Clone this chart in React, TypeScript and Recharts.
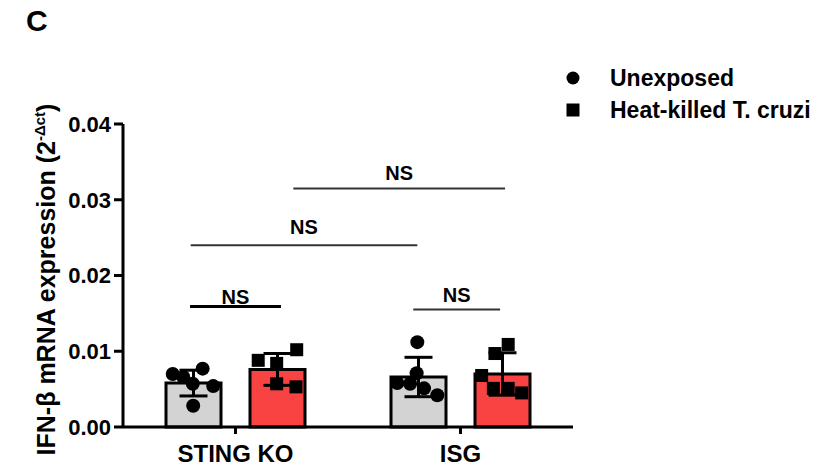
import {
  ComposedChart, Bar, Scatter, XAxis, YAxis, ErrorBar, ReferenceLine, Legend, Label,
} from 'recharts'

const FONT = '"Liberation Sans", Arial, sans-serif'

const groups = ['STING KO', 'ISG']
const unexposedMean = [0.0058, 0.0066]
const unexposedSd = [0.0017, 0.0026]
const heatKilledMean = [0.0076, 0.007]
const heatKilledSd = [0.0021, 0.0028]

// individual replicates, x on the hidden 0..2 axis (group i spans i..i+1)
const unexposedX = [0.221, 0.268, 0.354, 0.31, 0.401, 0.312, 1.308, 1.305, 1.219, 1.276, 1.338, 1.397]
const unexposedY = [0.007, 0.0066, 0.0077, 0.0057, 0.0054, 0.0028, 0.0112, 0.0071, 0.0058, 0.0057, 0.0051, 0.0042]
const heatKilledX = [0.601, 0.683, 0.772, 0.683, 0.769, 1.712, 1.653, 1.594, 1.646, 1.712, 1.772]
const heatKilledY = [0.0088, 0.0084, 0.0102, 0.0057, 0.0053, 0.0109, 0.0097, 0.0068, 0.0051, 0.0051, 0.0045]

// significance brackets
const compFrom = [0.757, 0.301, 0.298, 1.29]
const compTo = [1.698, 1.308, 0.702, 1.676]
const compY = [0.0315, 0.024, 0.0159, 0.0155]
const compText = ['NS', 'NS', 'NS', 'NS']

const yTicks = [0, 0.01, 0.02, 0.03, 0.04]
const legendLabels = ['Unexposed', 'Heat-killed T. cruzi']

const GRAY = '#d3d3d3'
const RED = '#f94343'

const barData = groups.map((g, i) => ({
  group: g,
  unexposed: unexposedMean[i],
  unexposedSd: unexposedSd[i],
  heatKilled: heatKilledMean[i],
  heatKilledSd: heatKilledSd[i],
}))
const unexposedPts = unexposedX.map((x, i) => ({ x, y: unexposedY[i] }))
const heatKilledPts = heatKilledX.map((x, i) => ({ x, y: heatKilledY[i] }))

const compStyle = [
  { stroke: '#333', w: 2, off: 8 },
  { stroke: '#333', w: 2, off: 11 },
  { stroke: '#000', w: 3, off: 3 },
  { stroke: '#333', w: 2, off: 8 },
]

function LegendBox() {
  return (
    <div style={{ fontFamily: FONT, fontWeight: 'bold', fontSize: 23, color: '#000' }}>
      {legendLabels.map((l, i) => (
        <div key={l} style={{ display: 'flex', alignItems: 'center', height: 32 }}>
          <svg width={14} height={14} style={{ marginLeft: 6, marginRight: 30 }}>
            {i === 0 ? <circle cx={7} cy={7} r={6.5} fill="#000" /> : <rect x={0.5} y={0.5} width={13} height={13} fill="#000" />}
          </svg>
          <span>{l}</span>
        </div>
      ))}
    </div>
  )
}

function YLabel(props: any) {
  const vb = props.viewBox
  const cy = vb.y + vb.height / 2 + 4
  return (
    <text transform={`translate(55, ${cy}) rotate(-90)`} textAnchor="middle" fontFamily={FONT} fontWeight="bold" fontSize={25} fill="#000">
      IFN-β mRNA expression (2<tspan dy={-10} fontSize={15}>-Δct</tspan><tspan dy={10}>)</tspan>
    </text>
  )
}

export default function App() {
  return (
    <div style={{ position: 'relative', width: 837, height: 470, background: '#fff' }}>
      <style>{'body{margin:0}'}</style>
      <div style={{ position: 'absolute', left: 26, top: 6, fontFamily: FONT, fontWeight: 'bold', fontSize: 30, lineHeight: '30px' }}>C</div>
      <ComposedChart width={837} height={470} data={barData} margin={{ top: 124, right: 264, bottom: 0, left: 0 }} barSize={55} barGap={29}>
        <XAxis xAxisId="c" dataKey="group" height={43} axisLine={{ stroke: '#000', strokeWidth: 3 }}
          tickLine={{ stroke: '#000', strokeWidth: 3 }} tickSize={7} tickMargin={11}
          tick={{ fill: '#000', fontFamily: FONT, fontWeight: 'bold', fontSize: 24 }} />
        <XAxis xAxisId="n" type="number" dataKey="x" domain={[0, 2]} allowDataOverflow hide height={0} />
        <YAxis width={123} domain={[0, 0.04]} ticks={yTicks} tickFormatter={(v: number) => v.toFixed(2)}
          axisLine={{ stroke: '#000', strokeWidth: 3 }} tickLine={{ stroke: '#000', strokeWidth: 3 }}
          tickSize={9} tickMargin={3} interval={0}
          tick={{ fill: '#000', fontFamily: FONT, fontWeight: 'bold', fontSize: 22 }}>
          <Label content={YLabel} />
        </YAxis>
        <Bar xAxisId="c" dataKey="unexposed" fill={GRAY} stroke="#000" strokeWidth={3} isAnimationActive={false}>
          <ErrorBar dataKey="unexposedSd" width={14} strokeWidth={3} stroke="#000" direction="y" />
        </Bar>
        <Bar xAxisId="c" dataKey="heatKilled" fill={RED} stroke="#000" strokeWidth={3} isAnimationActive={false}>
          <ErrorBar dataKey="heatKilledSd" width={14} strokeWidth={3} stroke="#000" direction="y" />
        </Bar>
        <Scatter xAxisId="n" data={unexposedPts} dataKey="y" isAnimationActive={false}
          shape={(p: any) => <circle cx={p.cx} cy={p.cy} r={7} fill="#000" />} />
        <Scatter xAxisId="n" data={heatKilledPts} dataKey="y" isAnimationActive={false}
          shape={(p: any) => <rect x={p.cx - 6.5} y={p.cy - 6.5} width={13} height={13} fill="#000" />} />
        {compY.map((y, i) => (
          <ReferenceLine key={i} xAxisId="n" segment={[{ x: compFrom[i], y }, { x: compTo[i], y }]}
            stroke={compStyle[i].stroke} strokeWidth={compStyle[i].w}
            label={{ value: compText[i], position: 'top', offset: compStyle[i].off, fill: '#000', fontFamily: FONT, fontWeight: 'bold', fontSize: 20 }} />
        ))}
        <Legend layout="horizontal" verticalAlign="middle" align="center" content={() => <LegendBox />}
          wrapperStyle={{ top: 62, left: 560, width: 277, height: 70 }} />
      </ComposedChart>
    </div>
  )
}
